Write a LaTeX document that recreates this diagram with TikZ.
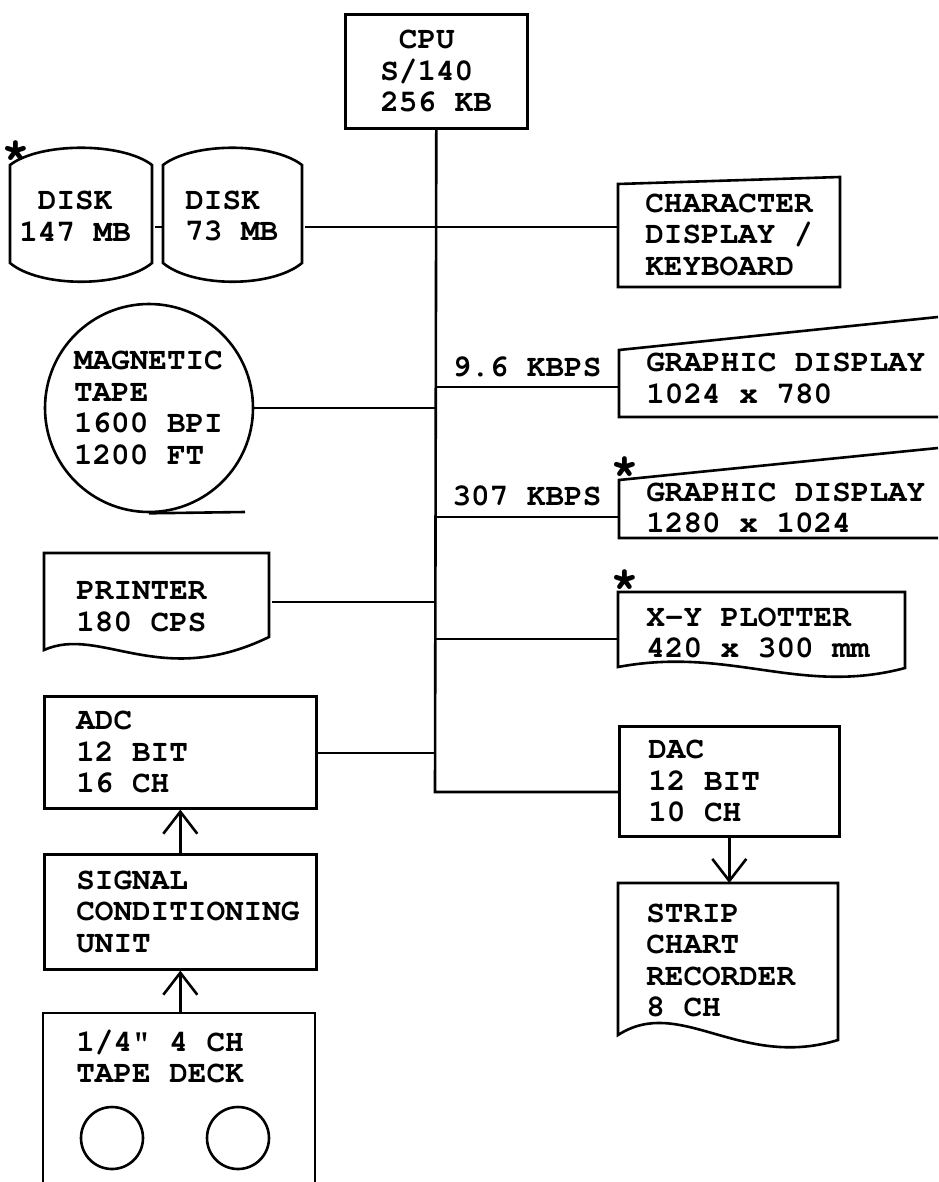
\documentclass[tikz,border=0pt]{standalone}
\usepackage[T1]{fontenc}
\usepackage{courier}
\usetikzlibrary{arrows.meta}

\begin{document}
\begin{tikzpicture}[x=1pt, y=-1pt, line width=2.6pt,
    every node/.style={font=\ttfamily\bfseries\fontsize{31}{31.5}\selectfont, inner ysep=0pt},
    unit/.style={anchor=north west, align=flush left},
    star/.style={anchor=north, font=\ttfamily\bfseries\fontsize{48}{48}\selectfont},
    feed/.style={-{Straight Barb[length=22pt, width=34pt]}}]
  \useasboundingbox (0,0) rectangle (938,1182);

  % units
  \node[unit, draw, minimum width=182, minimum height=114, text width=112, inner xsep=35] (cpu) at (344,13) {~CPU\\S/140\\256 KB};
  \node[unit, minimum width=142, minimum height=134, text width=126, inner xsep=8] (dska) at (10,148) {~DISK\\147 MB};
  \node[unit, minimum width=139, minimum height=134, text width=97, inner xsep=21] (dskb) at (163,148) {DISK\\73 MB};
  \node[unit, minimum width=222, minimum height=107, text width=170, inner xsep=26] (chr) at (618,180) {CHARACTER\\DISPLAY /\\KEYBOARD};
  \node[unit, minimum width=337, minimum height=65, text width=285, inner xsep=26] (gfa) at (619,345) {GRAPHIC DISPLAY\\1024 x 780};
  \node[unit, minimum width=337, minimum height=64, text width=285, inner xsep=26] (gfb) at (619,475) {GRAPHIC DISPLAY\\1280 x 1024};
  \node[circle, draw, minimum size=208, inner sep=0pt, text width=150, align=flush left] (tape) at (149,408) {MAGNETIC\\TAPE\\1600 BPI\\1200 FT};
  \node[unit, minimum width=225, minimum height=106, text width=163, inner xsep=31] (prn) at (44,553) {PRINTER\\180 CPS};
  \node[unit, minimum width=287, minimum height=80, text width=233, inner xsep=27] (plt) at (618,592) {X-Y PLOTTER\\420 x 300 mm};
  \node[unit, draw, minimum width=272, minimum height=112, text width=208, inner xsep=32] (adc) at (43,695) {ADC\\12 BIT\\16 CH};
  \node[unit, draw, minimum width=220, minimum height=110, text width=162, inner xsep=29] (dac) at (618,725) {DAC\\12 BIT\\10 CH};
  \node[unit, draw, minimum width=272, minimum height=115, text width=208, inner xsep=32] (sig) at (43,853) {SIGNAL\\\mbox{CONDITIONING}\\UNIT};
  \node[unit, minimum width=220, minimum height=153, text width=166, inner xsep=27] (strip) at (618,883) {STRIP\\CHART\\RECORDER\\8 CH};
  \node[unit, minimum width=272, minimum height=86, text width=208, inner xsep=32] (deck) at (43,1013) {1/4" 4 CH\\TAPE DECK};
  \node[circle, draw, minimum size=62] (reela) at (112,1138) {};
  \node[circle, draw, minimum size=62] (reelb) at (238,1138) {};

  % outlines
  \draw (10,263) -- (10,165) .. controls (40,142) and (122,142) .. (152,165) -- (152,263) .. controls (122,288) and (40,288) .. (10,263) -- cycle;
  \draw (163,263) -- (163,165) .. controls (193,142) and (272,142) .. (302,165) -- (302,263) .. controls (272,288) and (193,288) .. (163,263) -- cycle;
  \draw (618,184) -- (840,177) -- (840,287) -- (618,287) -- cycle;
  \draw (938,317) -- (619,350) -- (619,417) -- (938,417);
  \draw (938,448) -- (619,480) -- (619,538) -- (938,538);
  \draw (44,650) -- (44,553) -- (269,553) -- (269,637) .. controls (160,690) and (100,625) .. (44,650) -- cycle;
  \draw (618,667) -- (618,592) -- (905,592) -- (905,668) .. controls (800,696) and (730,646) .. (618,667) -- cycle;
  \draw (618,1035) -- (618,883) -- (838,883) -- (838,1040) .. controls (740,1070) and (680,995) .. (618,1035) -- cycle;
  \draw (43,1182) -- (43,1013) -- (315,1013) -- (315,1182);
  \draw (tape.south) -- (245,512);

  % bus
  \coordinate (j1) at (435,227);
  \coordinate (j2) at (435,387);
  \coordinate (j3) at (435,408);
  \coordinate (j4) at (435,517);
  \coordinate (j5) at (435,602);
  \coordinate (j6) at (435,639);
  \coordinate (j7) at (435,753);
  \coordinate (j8) at (435,792);
  \draw (cpu.south) -- (j8) -- (dac.west |- j8);
  \draw (dska.east |- j1) -- (dskb.west |- j1);
  \draw (dskb.east |- j1) -- (chr.west |- j1);
  \draw (j2) -- (gfa.west |- j2);
  \draw (tape.east) -- (j3);
  \draw (j4) -- (gfb.west |- j4);
  \draw (prn.east |- j5) -- (j5);
  \draw (j6) -- (plt.west |- j6);
  \draw (adc.east |- j7) -- (j7);
  \draw[feed] (deck.north) -- (sig.south);
  \draw[feed] (sig.north) -- (adc.south);
  \draw[feed] (dac.south) -- (strip.north);

  \node[anchor=east] (ra) at (606,367) {9.6 KBPS};
  \node[anchor=east] (rb) at (606,496) {307 KBPS};
  \node[star] (sa) at (16,140) {*};
  \node[star] (sb) at (625,456) {*};
  \node[star] (sc) at (625,569) {*};
\end{tikzpicture}
\end{document}
